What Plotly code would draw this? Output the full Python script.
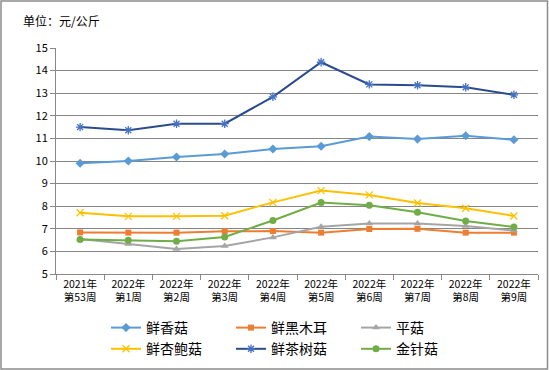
import plotly.graph_objects as go

categories = ["2021年<br>第53周", "2022年<br>第1周", "2022年<br>第2周", "2022年<br>第3周", "2022年<br>第4周",
              "2022年<br>第5周", "2022年<br>第6周", "2022年<br>第7周", "2022年<br>第8周", "2022年<br>第9周"]

xianxianggu = [9.90, 10.00, 10.18, 10.31, 10.53, 10.65, 11.08, 10.97, 11.12, 10.94]
xianheimuer = [6.84, 6.83, 6.83, 6.89, 6.90, 6.83, 6.99, 7.00, 6.83, 6.83]
pinggu = [6.55, 6.33, 6.11, 6.24, 6.62, 7.09, 7.23, 7.23, 7.12, 6.92]
xingbaogu = [7.71, 7.55, 7.55, 7.58, 8.17, 8.69, 8.50, 8.14, 7.91, 7.57]
chashugu = [11.50, 11.36, 11.65, 11.65, 12.84, 14.37, 13.39, 13.35, 13.26, 12.93]
jinzhengu = [6.53, 6.49, 6.45, 6.64, 7.37, 8.16, 8.04, 7.73, 7.35, 7.08]

series = [
    ("鲜香菇", xianxianggu, "#5B9BD5", "diamond", 7, "#5B9BD5"),
    ("鲜黑木耳", xianheimuer, "#ED7D31", "square", 6, "#ED7D31"),
    ("平菇", pinggu, "#A5A5A5", "triangle-up", 7, "#A5A5A5"),
    ("鲜杏鲍菇", xingbaogu, "#FFC000", "x-thin-open", 7, "#FFC000"),
    ("鲜茶树菇", chashugu, "#2B4C8C", "asterisk-open", 7, "#4472C4"),
    ("金针菇", jinzhengu, "#70AD47", "circle", 7, "#70AD47"),
]

FONT = "Noto Sans CJK SC, sans-serif"

fig = go.Figure()
for name, vals, color, sym, size, mcolor in series:
    marker = dict(symbol=sym, size=size, color=mcolor)
    if sym.endswith("-open"):
        marker["line"] = dict(color=mcolor, width=1.3)
    fig.add_trace(go.Scatter(
        x=categories, y=vals, name=name, mode="lines+markers",
        line=dict(color=color, width=2), marker=marker,
    ))

L, R, T, B = 56, 11, 48, 96
W, H = 549, 370
pw, ph = W - L - R, H - T - B


def px_to_paper_x(px):
    return (px - L) / pw


def px_to_paper_y(py):
    return (H - B - py) / ph


fig.update_layout(
    width=W, height=H,
    margin=dict(l=L, r=R, t=T, b=B, autoexpand=False),
    paper_bgcolor="white", plot_bgcolor="white",
    font=dict(family=FONT, size=11, color="#000000"),
    showlegend=True,
    legend=dict(
        orientation="h", x=px_to_paper_x(106), y=px_to_paper_y(312),
        xanchor="left", yanchor="top",
        entrywidth=80, entrywidthmode="pixels",
        font=dict(family=FONT, size=14, color="#000"),
        tracegroupgap=0, itemsizing="trace",
        bgcolor="rgba(0,0,0,0)",
    ),
    xaxis=dict(
        type="category", showgrid=False, showline=True, linecolor="#888888", linewidth=1,
        ticks="outside", ticklen=5, tickcolor="#888888", tickson="boundaries",
        tickfont=dict(family=FONT, size=10.5, color="#000"),
        range=[-0.5, 9.5], fixedrange=True,
    ),
    yaxis=dict(
        range=[5, 15], dtick=1, showgrid=True, gridcolor="#868686", gridwidth=1,
        showline=True, linecolor="#888888", linewidth=1,
        ticks="outside", ticklen=5, tickcolor="#888888",
        tickfont=dict(family=FONT, size=11, color="#000"), zeroline=False,
    ),
    annotations=[dict(
        text="单位：元/公斤", xref="paper", yref="paper",
        x=px_to_paper_x(21), y=px_to_paper_y(20), xanchor="left", yanchor="middle",
        showarrow=False, font=dict(family=FONT, size=12, color="#000"),
    )],
    shapes=[dict(
        type="rect", xref="paper", yref="paper",
        x0=px_to_paper_x(1), x1=px_to_paper_x(547.5),
        y0=px_to_paper_y(369), y1=px_to_paper_y(1),
        line=dict(color="#8C8C8C", width=1.5), fillcolor="rgba(0,0,0,0)", layer="below",
    )],
)

fig.write_html(
    "out.html",
    config={"displayModeBar": False},
    post_script="document.body.style.margin='0';document.body.style.overflow='hidden';",
)
